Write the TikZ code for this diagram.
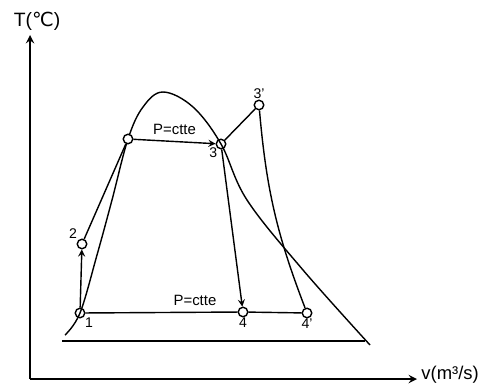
\documentclass[tikz,border=0pt]{standalone}
\usepackage{fontspec}
\setmainfont{Liberation Sans}
\newfontfamily\symfont{DejaVu Sans}
\usetikzlibrary{arrows,calc}

\begin{document}
\begin{tikzpicture}[x=0.02cm, y=-0.02cm, line width=0.8pt, >=stealth,
    pt/.style={draw, circle, fill=white, inner sep=0pt, minimum size=0.19cm},
    every label/.style={font=\fontsize{8}{9}\selectfont, inner sep=1pt}]
  \useasboundingbox (0,0) rectangle (502,385);
  % axes
  \draw[line width=1.1pt, ->] (30,379) -- (30,35);
  \node[font=\fontsize{11}{13}\selectfont] (tlab) at (37,21) {T({\symfont ℃})};
  \draw[line width=1.1pt, ->] (30,379) -- (417,379);
  \node[anchor=west, inner sep=1pt, font=\fontsize{10.5}{12}\selectfont] (vlab) at (419,375) {v(m³/s)};
  % dome
  \draw plot[smooth, tension=0.6] coordinates {(65,335) (80,313) (97,255) (112,200) (128,139) (143,107) (163,92) (193,107) (221,144) (247,200) (303,270) (370,345)};
  \draw (62,341) -- (365,341);
  % states
  \node[pt, fill=none, label={[label distance=-1pt]-45:1}] (p1) at (80,313) {};
  \node[pt, label={[label distance=-1pt]135:2}] (p2) at (82,244) {};
  \node[pt] (pa) at (128,139) {};
  \node[pt, fill=none, label={[label distance=-2pt]-135:3}] (p3) at (221,144) {};
  \node[pt, label={[label distance=-1pt]90:3'}] (p3b) at (259,105) {};
  \node[pt, label={[label distance=-1pt]-90:4}] (p4) at (243,312) {};
  \node[pt, label={[label distance=-1pt]-90:4'}] (p4b) at (307,313) {};
  % process lines
  \draw[->] (p1) -- (p2);
  \draw (p2) -- (pa);
  \draw[->] (pa) -- node[above, font=\fontsize{8.5}{10}\selectfont] (ptop) {P=ctte} (p3);
  \draw (p3) -- (p3b);
  \draw (p3b) to[bend right=8] (p4b);
  \draw[->] (p3) -- (p4);
  \draw (p1) -- node[pos=0.72, above, font=\fontsize{8.5}{10}\selectfont] (pbot) {P=ctte} (p4);
  \draw (p4) -- (p4b);
\end{tikzpicture}
\end{document}
